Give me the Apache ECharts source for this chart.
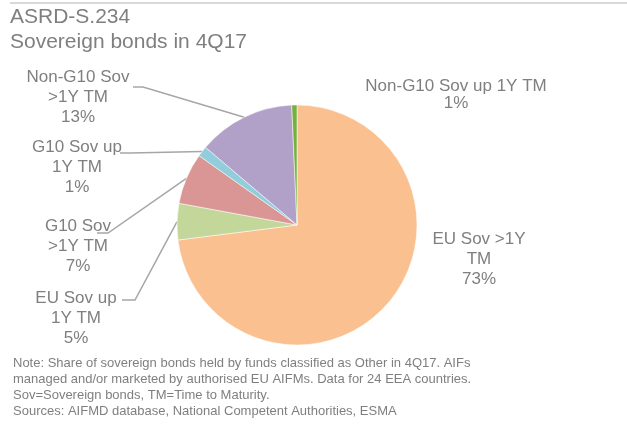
<!DOCTYPE html>
<html>
<head>
<meta charset="utf-8">
<script src="https://cdn.jsdelivr.net/npm/echarts@6/dist/echarts.min.js"></script>
<style>
  html, body { margin: 0; padding: 0; background: #fff; }
  #chart { width: 627px; height: 428px; }
</style>
</head>
<body>
<div id="chart"></div>
<script>
// slices clockwise from 12 o'clock
var names = ["EU Sov >1Y TM", "EU Sov up 1Y TM", "G10 Sov >1Y TM", "G10 Sov up 1Y TM", "Non-G10 Sov >1Y TM", "Non-G10 Sov up 1Y TM"];
var labelText = ["EU Sov >1Y\nTM", "EU Sov up\n1Y TM", "G10 Sov\n>1Y TM", "G10 Sov up\n1Y TM", "Non-G10 Sov\n>1Y TM", "Non-G10 Sov up 1Y TM"];
var shares = [73.0, 4.9, 6.9, 1.4, 13.1, 0.7];
var colors = ["#fac090", "#c4d79b", "#da9694", "#92cddc", "#b1a0c7", "#77b040"];

// label block centres, and where the leader line meets the text (bend, end)
var labelPos = [[479, 259], [76, 318], [78, 246], [77, 167], [78, 97], [456, 95]];
var leaderEnd = [null, [[135, 300], [122, 300]], [[108, 233], [97, 233]], [[130, 153], [120, 153]], [[143, 87], [133, 87]], null];

var data = names.map(function (n, i) {
  return {
    name: n,
    value: shares[i],
    itemStyle: { color: colors[i] },
    label: i === 5 ? { lineHeight: 17 } : {},
    labelLine: { show: i !== 0 && i !== 5 }
  };
});

var myChart = echarts.init(document.getElementById("chart"));
myChart.setOption({
  animation: false,
  title: {
    text: "ASRD-S.234\nSovereign bonds in 4Q17",
    left: 5,
    top: 0,
    textStyle: {
      fontFamily: "Liberation Sans",
      fontWeight: "normal",
      fontSize: 21,
      lineHeight: 25,
      color: "#7f7f7f"
    }
  },
  graphic: [
    {
      type: "line",
      shape: { x1: 10, y1: 3, x2: 627, y2: 3 },
      style: { stroke: "#d9d9d9", lineWidth: 2 }
    },
    {
      type: "text",
      left: 13,
      top: 355,
      style: {
        text: "Note: Share of sovereign bonds held by funds classified as Other in 4Q17. AIFs\nmanaged and/or marketed by authorised EU AIFMs. Data for 24 EEA countries.\nSov=Sovereign bonds, TM=Time to Maturity.\nSources: AIFMD database, National Competent Authorities, ESMA",
        font: "13px Liberation Sans",
        lineHeight: 16,
        fill: "#7f7f7f"
      }
    }
  ],
  series: [
    {
      type: "pie",
      center: [297, 225],
      radius: 120,
      startAngle: 90,
      clockwise: true,
      data: data,
      itemStyle: { borderColor: "#fff", borderWidth: 0.5 },
      label: {
        fontFamily: "Liberation Sans",
        fontSize: 17,
        lineHeight: 20,
        color: "#7f7f7f",
        align: "center",
        formatter: function (p) {
          return labelText[p.dataIndex] + "\n" + Math.round(p.value) + "%";
        }
      },
      labelLine: {
        lineStyle: { color: "#a6a6a6", width: 1.5 },
        length: 10,
        length2: 10
      },
      labelLayout: function (p) {
        var i = p.dataIndex;
        var pos = labelPos[i];
        var out = { x: pos[0], y: pos[1], align: "center", verticalAlign: "middle" };
        if (leaderEnd[i] && p.labelLinePoints) {
          out.labelLinePoints = [p.labelLinePoints[0], leaderEnd[i][0], leaderEnd[i][1]];
        }
        return out;
      }
    }
  ]
});
</script>
</body>
</html>
